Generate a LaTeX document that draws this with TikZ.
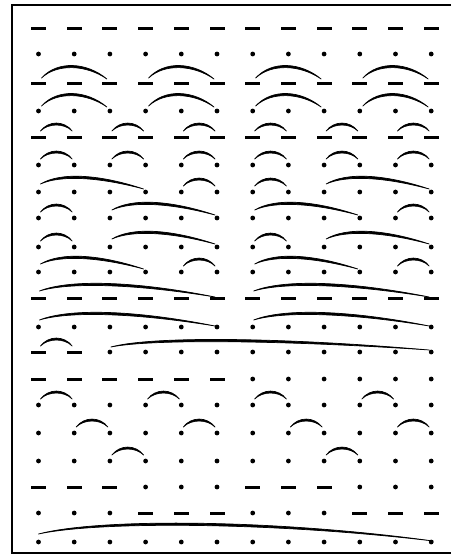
\documentclass[tikz,border=0pt]{standalone}
\tikzset{
 ptdot/.style={circle,fill=black,inner sep=0pt,minimum size=4.8pt},
 ptdash/.style={rectangle,fill=black,inner sep=0pt,minimum width=15pt,minimum height=3pt},
 arcink/.style={fill=black,draw=black,line width=0.7pt,line join=round},
 frameline/.style={line width=2pt}
}
\newcommand\qrow[3]{\foreach \qty [count=\qk] in {#3} {\node[pt\qty] (r#1c\qk) at ({38.5+35.7*(\qk-1)},{-#2}) {};}}
\newcommand\qset[9]{\def\qSx{#1}\def\qSy{#2}\def\qAx{#3}\def\qAy{#4}\def\qBx{#5}\def\qBy{#6}\def\qEx{#7}\def\qEy{#8}\def\qTh{#9}}
\newcommand\qarc[3]{\filldraw[arcink] ([shift={(\qSx,\qSy)}]r#1c#2.center) .. controls +(\qAx,\qAy) and +(\qBx,\qBy) .. ([shift={(\qEx,\qEy)}]r#1c#3.center) .. controls +(\qBx,\qBy+\qTh) and +(\qAx,\qAy+\qTh) .. ([shift={(\qSx,\qSy)}]r#1c#2.center) -- cycle;}
\newcommand\pairset{\qset{2}{6}{8}{8}{-8}{8}{-2}{6}{2.6}}
\newcommand\spanBset{\qset{3}{5}{16}{15}{-20}{14}{-3}{4}{2.8}}
\newcommand\spanCset{\qset{2}{8}{20}{9}{-45}{12}{-2}{3}{3}}
\newcommand\spanEset{\qset{1}{7}{30}{9}{-80}{13}{-2}{1}{3}}
\newcommand\spanIset{\qset{1}{5}{40}{8}{-150}{10}{-2}{2}{3}}
\newcommand\spanKset{\qset{0}{8}{60}{13}{-160}{19}{2}{1}{3}}
\begin{document}
\begin{tikzpicture}[x=1pt,y=1pt]
\useasboundingbox (0,0) rectangle (451,-558);
\draw[frameline] (451,-5) -- (12,-5) -- (12,-553) -- (451,-553);
% points
\qrow{1}{28}{dash,dash,dash,dash,dash,dash,dash,dash,dash,dash,dash,dash}
\qrow{2}{54}{dot,dot,dot,dot,dot,dot,dot,dot,dot,dot,dot,dot}
\qrow{3}{83}{dash,dash,dash,dash,dash,dash,dash,dash,dash,dash,dash,dash}
\qrow{4}{111}{dot,dot,dot,dot,dot,dot,dot,dot,dot,dot,dot,dot}
\qrow{5}{137}{dash,dash,dash,dash,dash,dash,dash,dash,dash,dash,dash,dash}
\qrow{6}{165}{dot,dot,dot,dot,dot,dot,dot,dot,dot,dot,dot,dot}
\qrow{7}{192}{dot,dot,dot,dot,dot,dot,dot,dot,dot,dot,dot,dot}
\qrow{8}{218}{dot,dot,dot,dot,dot,dot,dot,dot,dot,dot,dot,dot}
\qrow{9}{247}{dot,dot,dot,dot,dot,dot,dot,dot,dot,dot,dot,dot}
\qrow{10}{272}{dot,dot,dot,dot,dot,dot,dot,dot,dot,dot,dot,dot}
\qrow{11}{298}{dash,dash,dash,dash,dash,dash,dash,dash,dash,dash,dash,dash}
\qrow{12}{327}{dot,dot,dot,dot,dot,dot,dot,dot,dot,dot,dot,dot}
\qrow{13}{352}{dash,dash,dot,dot,dot,dot,dot,dot,dot,dot,dot,dot}
\qrow{14}{379}{dash,dash,dash,dash,dash,dash,dot,dot,dot,dot,dot,dot}
\qrow{15}{405}{dot,dot,dot,dot,dot,dot,dot,dot,dot,dot,dot,dot}
\qrow{16}{433}{dot,dot,dot,dot,dot,dot,dot,dot,dot,dot,dot,dot}
\qrow{17}{461}{dot,dot,dot,dot,dot,dot,dot,dot,dot,dot,dot,dot}
\qrow{18}{487}{dash,dash,dash,dot,dot,dot,dash,dash,dash,dot,dot,dot}
\qrow{19}{513}{dot,dot,dot,dash,dash,dash,dot,dot,dot,dash,dash,dash}
\qrow{20}{542}{dot,dot,dot,dot,dot,dot,dot,dot,dot,dot,dot,dot}
% arcs
\spanBset
\qarc{3}{1}{3}\qarc{3}{4}{6}\qarc{3}{7}{9}\qarc{3}{10}{12}
\qarc{4}{1}{3}\qarc{4}{4}{6}\qarc{4}{7}{9}\qarc{4}{10}{12}
\pairset
\qarc{5}{1}{2}\qarc{5}{3}{4}\qarc{5}{5}{6}\qarc{5}{7}{8}\qarc{5}{9}{10}\qarc{5}{11}{12}
\qarc{6}{1}{2}\qarc{6}{3}{4}\qarc{6}{5}{6}\qarc{6}{7}{8}\qarc{6}{9}{10}\qarc{6}{11}{12}
\qarc{7}{5}{6}\qarc{7}{7}{8}
\qarc{8}{1}{2}\qarc{8}{11}{12}
\qarc{9}{1}{2}\qarc{9}{7}{8}
\qarc{10}{5}{6}\qarc{10}{11}{12}
\qarc{13}{1}{2}
\qarc{15}{1}{2}\qarc{15}{4}{5}\qarc{15}{7}{8}\qarc{15}{10}{11}
\qarc{16}{2}{3}\qarc{16}{5}{6}\qarc{16}{8}{9}\qarc{16}{11}{12}
\qarc{17}{3}{4}\qarc{17}{9}{10}
\spanCset
\qarc{7}{1}{4}\qarc{7}{9}{12}
\qarc{8}{3}{6}\qarc{8}{7}{10}
\qarc{9}{3}{6}\qarc{9}{9}{12}
\qarc{10}{1}{4}\qarc{10}{7}{10}
\spanEset
\qarc{11}{1}{6}\qarc{11}{7}{12}
\qarc{12}{1}{6}\qarc{12}{7}{12}
\spanIset
\qarc{13}{3}{12}
\spanKset
\qarc{20}{1}{12}
\end{tikzpicture}
\end{document}
